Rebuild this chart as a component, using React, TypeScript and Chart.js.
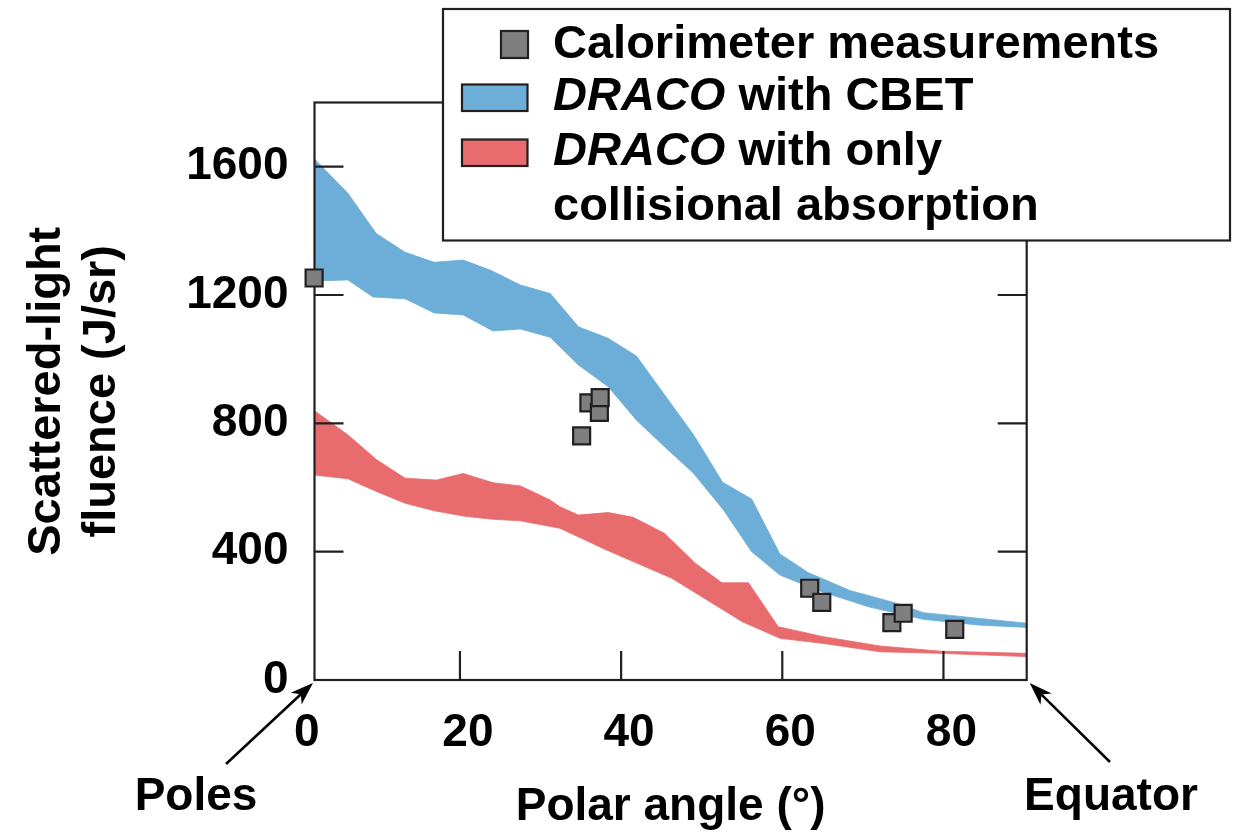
import React, { useEffect, useRef } from "react";
import { Chart, registerables } from "chart.js";

Chart.register(...registerables);

// ---------- data ----------
const X_TICKS = [0, 20, 40, 60, 80];
const Y_TICKS = [0, 400, 800, 1200, 1600];
const X_MIN = 1.95;
const X_MAX = 90.33;
const Y_MIN = 0;
const Y_MAX = 1800;

// DRACO with CBET band (upper / lower edges)
const CBET_UPPER_X = [1.95, 6.1, 9.6, 13.2, 16.8, 20.4, 23.9, 27.5, 31.2, 34.7, 38.4, 41.9, 49.0, 52.6, 56.2, 59.7, 63.2, 68.4, 74.2, 77.5, 84.5, 90.33];
const CBET_UPPER_Y = [1624, 1517, 1392, 1333, 1302, 1309, 1276, 1231, 1205, 1101, 1065, 1010, 764, 616, 564, 393, 335, 279, 239, 210, 192, 177];
const CBET_LOWER_X = [1.95, 6.1, 9.2, 13.2, 16.8, 20.4, 24.1, 27.5, 31.2, 34.7, 38.4, 41.9, 45.4, 49.0, 52.7, 56.2, 59.7, 64.7, 70.7, 77.5, 84.5, 90.33];
const CBET_LOWER_Y = [1244, 1247, 1194, 1188, 1144, 1138, 1088, 1094, 1068, 982, 914, 810, 727, 644, 530, 400, 327, 277, 228, 189, 171, 164];

// DRACO with only collisional absorption band
const COLL_UPPER_X = [1.95, 6.1, 9.7, 13.2, 17.1, 20.4, 24.1, 27.5, 31.2, 32.4, 34.7, 38.4, 41.5, 45.4, 49.2, 52.5, 55.8, 59.5, 65.1, 72.1, 79.6, 90.33];
const COLL_UPPER_Y = [839, 764, 686, 629, 623, 644, 615, 605, 561, 540, 514, 522, 507, 457, 364, 303, 303, 166, 135, 106, 90, 83];
const COLL_LOWER_X = [1.95, 6.1, 9.7, 13.2, 16.7, 20.4, 24.1, 27.5, 32.4, 38.2, 46.3, 55.0, 59.7, 65.1, 72.1, 79.6, 90.33];
const COLL_LOWER_Y = [639, 627, 587, 551, 528, 511, 501, 496, 473, 405, 317, 182, 130, 114, 88, 83, 73];

// Calorimeter measurements
const CAL_X = [1.9, 35.1, 36.0, 37.3, 37.4, 63.4, 64.9, 73.6, 75.0, 81.4];
const CAL_Y = [1253, 761, 864, 834, 880, 286, 242, 179, 208, 158];

const SERIES_CAL = "Calorimeter measurements";
const SERIES_CBET = "DRACO with CBET";
const SERIES_COLL = "DRACO with only collisional absorption";
const X_TITLE = "Polar angle (°)";
const Y_TITLE = ["Scattered-light", "fluence (J/sr)"];
const NOTE_LEFT = "Poles";
const NOTE_RIGHT = "Equator";

// ---------- style ----------
const W = 1236;
const H = 834;
const PLOT_LEFT = 314.5;
const PLOT_RIGHT = 1026.7;
const PLOT_TOP = 102.5;
const PLOT_BOTTOM = 680;
const FONT_FAMILY = "'Liberation Sans', Arial, Helvetica, sans-serif";
const INK = "#231f20";
const BLUE = "#6caed8";
const RED = "#e86b6d";
const GRAY = "#7f7f7f";

const pts = (xs: number[], ys: number[]) => xs.map((x, i) => ({ x, y: ys[i] }));

function drawArrow(ctx: CanvasRenderingContext2D, x1: number, y1: number, x2: number, y2: number) {
  const a = Math.atan2(y2 - y1, x2 - x1);
  const len = 23;
  const hw = 8;
  const bx = x2 - len * Math.cos(a);
  const by = y2 - len * Math.sin(a);
  const nx = x2 - len * 0.72 * Math.cos(a);
  const ny = y2 - len * 0.72 * Math.sin(a);
  ctx.save();
  ctx.strokeStyle = "#000";
  ctx.fillStyle = "#000";
  ctx.lineWidth = 2.5;
  ctx.beginPath();
  ctx.moveTo(x1, y1);
  ctx.lineTo(nx, ny);
  ctx.stroke();
  ctx.beginPath();
  ctx.moveTo(x2, y2);
  ctx.lineTo(bx + hw * Math.sin(a), by - hw * Math.cos(a));
  ctx.lineTo(nx, ny);
  ctx.lineTo(bx - hw * Math.sin(a), by + hw * Math.cos(a));
  ctx.closePath();
  ctx.fill();
  ctx.restore();
}

const framePlugin = {
  id: "frameTicks",
  afterDatasetDraw(chart: any, args: any) {
    if (args.index !== 1) return;
    const { ctx, chartArea: a, scales } = chart;
    const xs = scales.x;
    const ys = scales.y;
    const TL = 29;
    ctx.save();
    ctx.strokeStyle = INK;
    ctx.lineWidth = 2.2;
    ctx.strokeRect(a.left, a.top, a.right - a.left, a.bottom - a.top);
    ctx.beginPath();
    X_TICKS.forEach((v) => {
      const p = xs.getPixelForValue(v);
      if (p <= a.left + 1 || p >= a.right - 1) return;
      ctx.moveTo(p, a.bottom);
      ctx.lineTo(p, a.bottom - TL);
      ctx.moveTo(p, a.top);
      ctx.lineTo(p, a.top + TL);
    });
    Y_TICKS.forEach((v) => {
      const p = ys.getPixelForValue(v);
      if (p >= a.bottom - 1 || p <= a.top + 1) return;
      ctx.moveTo(a.left, p);
      ctx.lineTo(a.left + TL, p);
      ctx.moveTo(a.right, p);
      ctx.lineTo(a.right - TL, p);
    });
    ctx.stroke();
    ctx.restore();
  },
};

const overlayPlugin = {
  id: "overlay",
  afterDraw(chart: any) {
    const { ctx, chartArea: a } = chart;
    const bold = (s: number) => `bold ${s}px ${FONT_FAMILY}`;
    const boldIt = (s: number) => `italic bold ${s}px ${FONT_FAMILY}`;
    ctx.save();

    // Poles / Equator notes with arrows
    drawArrow(ctx, 226, 764, a.left - 1.5, a.bottom + 3);
    drawArrow(ctx, 1110, 762, a.right + 3, a.bottom + 3);
    ctx.fillStyle = "#000";
    ctx.font = bold(46);
    ctx.textAlign = "center";
    ctx.textBaseline = "middle";
    ctx.fillText(NOTE_LEFT, 196, 797);
    ctx.fillText(NOTE_RIGHT, 1111, 797);

    // Legend box
    const lx = 443, ly = 9, lw = 787, lh = 231.5;
    ctx.fillStyle = "#fff";
    ctx.fillRect(lx, ly, lw, lh);
    ctx.strokeStyle = INK;
    ctx.lineWidth = 2.2;
    ctx.strokeRect(lx, ly, lw, lh);

    // markers
    ctx.lineWidth = 2.2;
    ctx.fillStyle = GRAY;
    ctx.fillRect(501, 31, 27, 27);
    ctx.strokeRect(501, 31, 27, 27);
    ctx.fillStyle = BLUE;
    ctx.fillRect(462, 84.5, 65.5, 26.5);
    ctx.strokeRect(462, 84.5, 65.5, 26.5);
    ctx.fillStyle = RED;
    ctx.fillRect(462, 139.5, 65.5, 26.5);
    ctx.strokeRect(462, 139.5, 65.5, 26.5);

    // texts
    const tx = 553;
    const fs = 47;
    ctx.fillStyle = "#000";
    ctx.textAlign = "left";
    ctx.textBaseline = "middle";
    const drawRow = (y: number, label: string, breakAfter?: string) => {
      let text = label;
      if (breakAfter) text = label.slice(0, label.indexOf(breakAfter) + breakAfter.length);
      let x = tx;
      if (text.startsWith("DRACO")) {
        ctx.font = boldIt(fs);
        ctx.fillText("DRACO", x, y);
        x += ctx.measureText("DRACO").width;
        text = text.slice(5);
      }
      ctx.font = bold(fs);
      ctx.fillText(text, x, y);
    };
    drawRow(45, SERIES_CAL);
    drawRow(97, SERIES_CBET);
    drawRow(152, SERIES_COLL, "only");
    ctx.font = bold(fs);
    ctx.fillText(SERIES_COLL.slice(SERIES_COLL.indexOf("only") + 5), tx, 207);

    ctx.restore();
  },
};

export default function App() {
  const ref = useRef<HTMLCanvasElement | null>(null);

  useEffect(() => {
    const canvas = ref.current;
    if (!canvas) return;
    const tickFont = { family: FONT_FAMILY, size: 46, weight: "bold" as const, lineHeight: 1.15 };
    const chart = new Chart(canvas, {
      type: "line",
      data: {
        datasets: [
          {
            label: SERIES_CAL,
            data: pts(CAL_X, CAL_Y),
            showLine: false,
            pointStyle: "rect",
            pointRadius: 12,
            pointBackgroundColor: GRAY,
            pointBorderColor: INK,
            pointBorderWidth: 2.2,
            backgroundColor: GRAY,
            borderColor: INK,
            clip: false as any,
          },
          {
            label: SERIES_CBET + " (lower)",
            data: pts(CBET_LOWER_X, CBET_LOWER_Y),
            borderColor: BLUE,
            borderWidth: 0.8,
            pointRadius: 0,
            fill: false,
            tension: 0,
          },
          {
            label: SERIES_CBET,
            data: pts(CBET_UPPER_X, CBET_UPPER_Y),
            borderColor: BLUE,
            backgroundColor: BLUE,
            borderWidth: 0.8,
            pointRadius: 0,
            fill: "-1",
            tension: 0,
          },
          {
            label: SERIES_COLL + " (lower)",
            data: pts(COLL_LOWER_X, COLL_LOWER_Y),
            borderColor: RED,
            borderWidth: 0.8,
            pointRadius: 0,
            fill: false,
            tension: 0,
          },
          {
            label: SERIES_COLL,
            data: pts(COLL_UPPER_X, COLL_UPPER_Y),
            borderColor: RED,
            backgroundColor: RED,
            borderWidth: 0.8,
            pointRadius: 0,
            fill: "-1",
            tension: 0,
          },
        ],
      },
      options: {
        animation: false,
        responsive: false,
        devicePixelRatio: 1,
        layout: { padding: { left: 0, top: PLOT_TOP, right: W - PLOT_RIGHT, bottom: 0 } },
        plugins: {
          legend: { display: false },
          tooltip: { enabled: false },
        },
        scales: {
          x: {
            type: "linear",
            min: X_MIN,
            max: X_MAX,
            afterBuildTicks: (s: any) => {
              s.ticks = X_TICKS.map((v) => ({ value: v }));
            },
            afterFit: (s: any) => {
              s.height = H - PLOT_BOTTOM;
            },
            grid: { display: false, drawTicks: false },
            border: { display: false },
            ticks: {
              font: tickFont,
              color: "#000",
              padding: 27,
              labelOffset: 8,
              autoSkip: false,
              maxRotation: 0,
              callback: (v: any) => String(v),
            },
            title: {
              display: true,
              text: X_TITLE,
              color: "#000",
              font: { family: FONT_FAMILY, size: 46, weight: "bold", lineHeight: 1.15 },
              padding: { top: 0, bottom: 0 },
            },
          },
          y: {
            type: "linear",
            min: Y_MIN,
            max: Y_MAX,
            afterBuildTicks: (s: any) => {
              s.ticks = Y_TICKS.map((v) => ({ value: v }));
            },
            afterFit: (s: any) => {
              s.width = PLOT_LEFT;
            },
            grid: { display: false, drawTicks: false },
            border: { display: false },
            ticks: {
              font: tickFont,
              color: "#000",
              padding: 26,
              autoSkip: false,
              callback: (v: any) => String(v),
            },
            title: {
              display: true,
              text: Y_TITLE,
              color: "#000",
              font: { family: FONT_FAMILY, size: 47, weight: "bold", lineHeight: 1.15 },
              padding: { top: 20.5, bottom: 0 },
            },
          },
        },
      },
      plugins: [framePlugin, overlayPlugin],
    } as any);
    return () => chart.destroy();
  }, []);

  return (
    <div style={{ position: "absolute", left: 0, top: 0, width: W, height: H, background: "#fff" }}>
      <canvas ref={ref} width={W} height={H} style={{ width: W, height: H, display: "block" }} />
    </div>
  );
}
